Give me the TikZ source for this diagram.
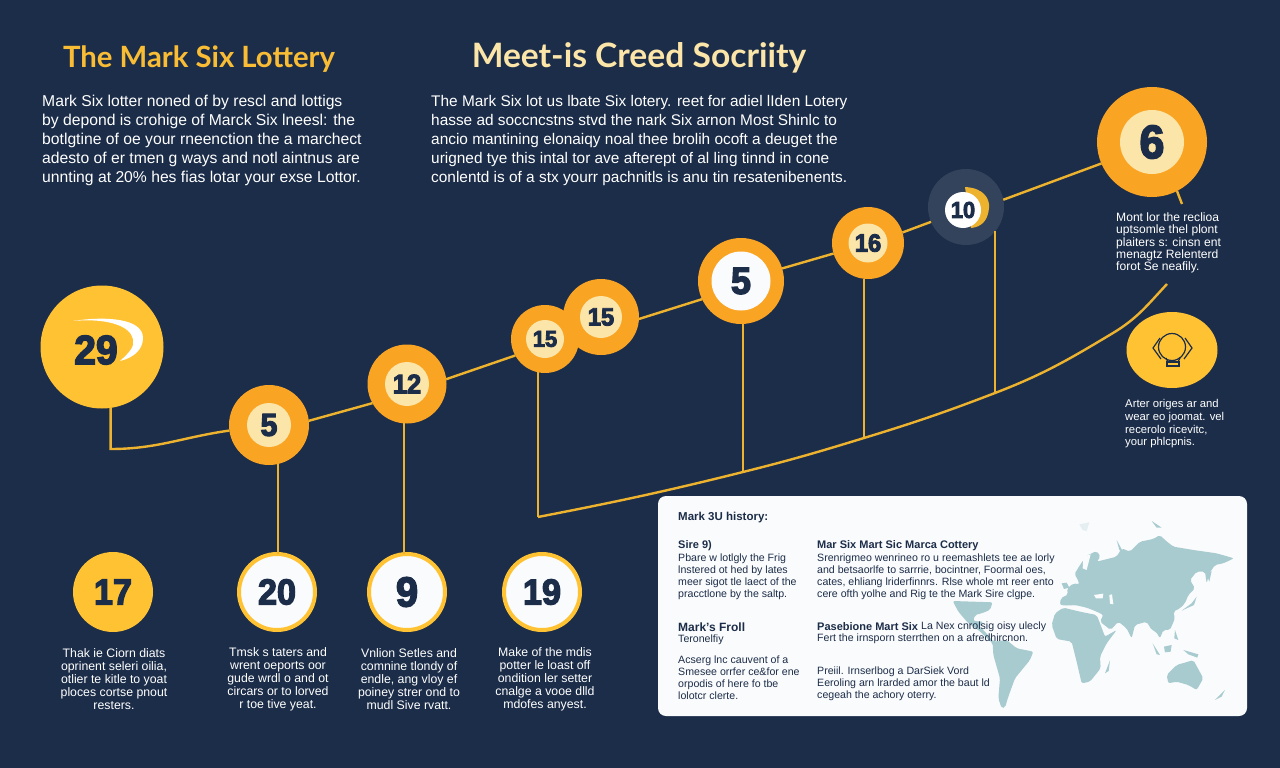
\documentclass[tikz,border=0pt]{standalone}
\usepackage{fontspec}
\usetikzlibrary{shapes.geometric}
\setmainfont{Liberation Sans}
\newfontfamily\titlefont{Lato}
\newfontfamily\numfont[BoldFont=Liberation Sans Bold,BoldFeatures={FakeBold=3.5,FakeStretch=0.95}]{Liberation Sans}
\definecolor{navy}{HTML}{1C2D49}
\definecolor{ringdark}{HTML}{33435C}
\definecolor{gold}{HTML}{FFC232}
\definecolor{wire}{HTML}{EDB32F}
\definecolor{amber}{HTML}{FAA423}
\definecolor{cream}{HTML}{FCE5A8}
\definecolor{titlegold}{HTML}{F9BC35}
\definecolor{paper}{HTML}{FAFBFC}
\definecolor{mapblue}{HTML}{A8CBD0}
\tikzset{
    ball/.style={circle,fill=amber,inner sep=0pt,outer sep=0pt},
    core/.style={circle,fill=cream,inner sep=0pt,outer sep=0pt,text=navy,font=\numfont\bfseries},
    ringball/.style={circle,fill=paper,draw=gold,line width=4pt,inner sep=0pt,outer sep=0pt,minimum size=76pt,text=navy,font=\numfont\bfseries\fontsize{36}{36}\selectfont},
    wireline/.style={draw=wire,line width=2.4pt},
    para/.style={text=white,anchor=west,align=left,inner sep=0pt},
    note/.style={text=white,align=center,inner sep=0pt,font=\fontsize{12.3}{13}\selectfont},
    sidenote/.style={text=white,anchor=west,align=left,inner sep=0pt,font=\fontsize{12.1}{12.4}\selectfont},
    small/.style={text=navy,anchor=west,align=left,inner sep=0pt,font=\fontsize{10.6}{12}\selectfont},
    smallhead/.style={text=navy,anchor=west,align=left,inner sep=0pt,font=\bfseries\fontsize{11}{12}\selectfont}
}
\begin{document}
\begin{tikzpicture}[x=1pt,y=-1pt]
                \fill[navy] (0,0) rectangle (1280,768);
                \useasboundingbox (0,0) rectangle (1280,768);
                \node[anchor=center,text=titlegold,font=\titlefont\bfseries\fontsize{29.3}{29}\selectfont,inner sep=0pt] (title1) at (199,59) {The Mark Six Lottery};
                \node[anchor=center,text=cream,font=\titlefont\bfseries\fontsize{33.6}{33}\selectfont,inner sep=0pt] (title2) at (639,58) {Meet-is Creed Socriity};
                \node[para,font=\fontsize{15.7}{19}\selectfont] (intro1) at (42,140.5) {Mark Six lotter noned of by rescl and lottigs\\by depond is crohige of Marck Six lneesl: the\\botlgtine of oe your rneenction the a marchect\\adesto of er tmen g ways and notl aintnus are\\unnting at 20\% hes fias lotar your exse Lottor.};
                \node[para,font=\fontsize{15.4}{19}\selectfont] (intro2) at (431,140.5) {The Mark Six lot us lbate Six lotery. reet for adiel lIden Lotery\\hasse ad soccncstns stvd the nark Six arnon Most Shinlc to\\ancio mantining elonaiqy noal thee brolih ocoft a deuget the\\urigned tye this intal tor ave afterept of al ling tinnd in cone\\conlentd is of a stx yourr pachnitls is anu tin resatenibenents.};
                \node[ball,fill=gold,minimum size=123pt] (b29) at (102,347) {};
                \fill[white] (73,321) .. controls (105,316) and (143,318) .. (143,338) .. controls (143,350) and (133,358) .. (120,361) .. controls (130,352) and (135,346) .. (133,339) .. controls (130,325) and (105,318) .. (73,321);
                \node[text=navy,font=\numfont\bfseries\fontsize{41}{41}\selectfont,inner sep=0pt] (n29) at (96,350) {29};
                \node[ball,minimum size=80pt] (b5) at (269,425) {};
                \node[core,minimum size=44pt,font=\numfont\bfseries\fontsize{32}{32}\selectfont] (n5) at (b5) {5};
                \node[ball,minimum size=79pt] (b12) at (407,384) {};
                \node[core,minimum size=44pt,font=\numfont\bfseries\fontsize{27}{27}\selectfont] (n12) at (b12) {12};
                \node[ball,minimum size=76pt] (b15b) at (601,317) {};
                \node[core,minimum size=42pt,font=\numfont\bfseries\fontsize{25}{25}\selectfont] (n15b) at (b15b) {15};
                \node[ball,minimum size=68pt] (b15a) at (545,339) {};
                \node[core,minimum size=38pt,font=\numfont\bfseries\fontsize{23}{23}\selectfont] (n15a) at (b15a) {15};
                \node[ball,minimum size=86pt] (b5big) at (741,281) {};
                \node[core,fill=paper,minimum size=59pt,font=\numfont\bfseries\fontsize{38}{38}\selectfont] (n5big) at (b5big) {5};
                \node[ball,minimum size=72pt] (b16) at (868,243) {};
                \node[core,minimum size=39pt,font=\numfont\bfseries\fontsize{25}{25}\selectfont] (n16) at (b16) {16};
                \node[ball,fill=ringdark,minimum size=76pt] (b10) at (966,207) {};
                \fill[wire] (965,187) .. controls (985,188) and (990,200) .. (989,208) .. controls (988,220) and (982,227) .. (971,228) -- cycle;
                \node[core,fill=white,minimum size=36pt,font=\numfont\bfseries\fontsize{23}{23}\selectfont] (n10) at (963,210) {10};
                \node[ball,minimum size=110pt] (b6) at (1152,142) {};
                \node[core,minimum size=64pt,font=\numfont\bfseries\fontsize{47}{47}\selectfont] (n6) at (b6) {6};
                \node[ellipse,fill=gold,minimum width=91pt,minimum height=76pt,inner sep=0pt,outer sep=0pt] (lamp) at (1172,350) {};
                \draw[navy,line width=1.2pt] (lamp.center) ++(0,-3) circle (13.5);
                \draw[navy,line width=1.2pt] (1160,338) -- (1153,348) -- (1161,359);
                \draw[navy,line width=1.2pt] (1185,338) -- (1192,348) -- (1184,359);
                \draw[navy,line width=1.2pt] (1166,358) -- (1168,362) -- (1178,362) -- (1180,358);
                \draw[navy,line width=1.2pt] (1167,366) rectangle (1179,362);
                \node[ball,fill=gold,minimum size=80pt,text=navy,font=\numfont\bfseries\fontsize{36}{36}\selectfont] (b17) at (113,592) {17};
                \node[ringball] (b20) at (277,592) {20};
                \node[ringball,font=\numfont\bfseries\fontsize{42}{42}\selectfont] (b9) at (407,592) {9};
                \node[ringball] (b19) at (542,592) {19};
                \coordinate (corner) at (110,449);
                \coordinate (j0) at (538,517);
                \coordinate (j1) at (743,472);
                \coordinate (j2) at (864,438);
                \coordinate (j3) at (995,393);
                \coordinate (j4) at (1113,333);
                \coordinate (j5) at (1167,284);
                \coordinate (tail) at (1182,204);
                \draw[wireline] (b29.-82) -- (b29.-82 |- corner) to[out=0,in=188] (b5.188);
                \draw[wireline] (b5.6) -- (b12.209);
                \draw[wireline] (b12.7) -- (b15a.209);
                \draw[wireline] (b15b.-3) -- (b5big.205);
                \draw[wireline] (b5big.17) -- (b16.197);
                \draw[wireline] (b16.17) -- (b10.203);
                \draw[wireline] (b10.11) -- (b6.203);
                \draw[wireline] (b6.-63) -- (tail);
                \draw[wireline] (b5.-77) -- (b5.-77 |- b20.north);
                \draw[wireline] (b12.-94) -- (b12.-94 |- b9.north);
                \draw[wireline] (b15a.-102) -- (b15a.-102 |- j0);
                \draw[wireline] (b5big.-87) -- (b5big.-87 |- j1);
                \draw[wireline] (b16.-96) -- (b16.-96 |- j2);
                \draw[wireline] (j3 |- b10.-40) -- (j3);
                \draw[wireline,line join=round] (j0) to[out=11,in=194] (j1) to[out=14,in=197] (j2) to[out=17,in=201] (j3) to[out=21,in=211] (j4) to[out=31,in=227] (j5);
                \node[note] (t17) at (114,679) {Thak ie Ciorn diats\\oprinent seleri oilia,\\otlier te kitle to yoat\\ploces cortse pnout\\resters.};
                \node[note] (t20) at (278,679) {Tmsk s taters and\\wrent oeports oor\\gude wrdl o and ot\\circars or to lorved\\r toe tive yeat.};
                \node[note] (t9) at (409,679) {Vnlion Setles and\\comnine tlondy of\\endle, ang vloy ef\\poiney strer ond to\\mudl Sive rvatt.};
                \node[note] (t19) at (545,679) {Make of the mdis\\potter le loast off\\ondition ler setter\\cnalge a vooe dlld\\mdofes anyest.};
                \node[sidenote] (t6) at (1116,243) {Mont lor the reclioa\\uptsomle thel plont\\plaiters s: cinsn ent\\menagtz Relenterd\\forot Se neafily.};
                \node[sidenote,font=\fontsize{11.3}{12.7}\selectfont] (tlamp) at (1125,424) {Arter origes ar and\\wear eo joomat. vel\\recerolo ricevitc,\\your phlcpnis.};
                \fill[paper,rounded corners=8pt] (658,496) rectangle (1247,716);
                \begin{scope}[shift={(940,515)},x=0.3333pt,y=-0.3333pt,mapblue]
                    \fill[rounded corners=2pt] (360,270) -- (362,250) -- (385,238) -- (380,222) -- (400,205) -- (418,208) -- (412,190) -- (403,178) -- (420,150) -- (440,122) -- (470,108) -- (482,125) -- (470,140) -- (490,135) -- (530,125) -- (545,100) -- (570,110) -- (600,80) -- (640,72) -- (660,60) -- (675,75) -- (700,95) -- (760,105) -- (830,115) -- (882,130) -- (850,145) -- (825,150) -- (808,175) -- (800,205) -- (795,170) -- (770,170) -- (750,195) -- (765,220) -- (745,240) -- (735,265) -- (720,280) -- (700,290) -- (705,310) -- (690,345) -- (670,345) -- (660,370) -- (648,350) -- (635,345) -- (620,320) -- (585,330) -- (575,370) -- (560,340) -- (535,320) -- (512,345) -- (480,320) -- (490,300) -- (470,290) -- (440,278) -- (405,270) -- (385,272) -- cycle;
                    \fill[rounded corners=2pt] (335,330) -- (345,295) -- (370,278) -- (420,290) -- (470,300) -- (478,320) -- (495,365) -- (530,345) -- (500,385) -- (480,425) -- (482,460) -- (450,500) -- (425,505) -- (410,440) -- (395,380) -- (350,372) -- cycle;
                    \fill[rounded corners=2pt] (680,480) -- (710,450) -- (745,440) -- (760,435) -- (790,490) -- (770,525) -- (745,510) -- (710,500) -- (685,505) -- cycle;
                    \fill[rounded corners=2pt] (38,258) -- (158,262) -- (150,285) -- (125,295) -- (105,300) -- (100,318) -- (130,320) -- (118,335) -- (135,350) -- (160,380) -- (200,375) -- (230,400) -- (280,410) -- (270,435) -- (225,490) -- (205,545) -- (195,578) -- (185,580) -- (175,550) -- (180,490) -- (160,420) -- (158,385) -- (115,345) -- (85,325) -- (55,290) -- cycle;
                    \fill (495,475) -- (510,436) -- (506,468) -- cycle;
                    \fill (365,205) -- (380,203) -- (388,218) -- (372,222) -- cycle;
                    \fill (725,287) -- (755,265) -- (770,245) -- (762,270) -- cycle;
                    \fill (800,178) -- (815,168) -- (808,200) -- cycle;
                    \fill (638,385) -- (660,420) -- (650,418) -- cycle;
                    \fill (672,395) -- (695,390) -- (692,410) -- (675,412) -- cycle;
                    \fill (705,345) -- (715,375) -- (703,370) -- cycle;
                    \fill (730,405) -- (775,418) -- (772,428) -- (745,418) -- cycle;
                    \fill (825,555) -- (855,525) -- (845,545) -- cycle;
                    \fill (635,18) -- (665,38) -- (650,38) -- cycle;
                    \fill (530,75) -- (550,112) -- (538,105) -- cycle;
                    \fill[paper] (462,240) -- (490,236) -- (488,250) -- (468,250) -- cycle;
                    \fill[paper] (508,240) -- (516,238) -- (520,268) -- (510,266) -- cycle;
                    \fill[paper] (430,125) -- (452,118) -- (440,165) -- (428,160) -- cycle;
                    \fill[mapblue!30] (418,28) -- (448,22) -- (440,48) -- (428,45) -- cycle;
                \end{scope}
                \node[smallhead,font=\bfseries\fontsize{11.5}{12}\selectfont] (phead) at (678,518) {Mark 3U history:};
                \node[smallhead] (a1) at (678,546) {Sire 9)};
                \node[small] (a2) at (678,577) {Pbare w lotlgly the Frig\\lnstered ot hed by lates\\meer sigot tle laect of the\\pracctlone by the saltp.};
                \node[smallhead,font=\bfseries\fontsize{12}{12}\selectfont] (a3) at (678,627) {Mark's Froll};
                \node[small] (a4) at (678,640) {Teronelfiy};
                \node[small] (a5) at (678,678) {Acserg lnc cauvent of a\\Smesee orrfer ce\&for ene\\orpodis of here fo tbe\\lolotcr clerte.};
                \node[smallhead] (c1) at (817,546) {Mar Six Mart Sic Marca Cottery};
                \node[small] (c2) at (817,577) {Srenrigmeo wenrineo ro u reemashlets tee ae lorly\\and betsaorlfe to sarrrie, bocintner, Foormal oes,\\cates, ehliang lriderfinnrs. Rlse whole mt reer ento\\cere ofth yolhe and Rig te the Mark Sire clgpe.};
                \node[smallhead] (c3) at (817,627) {Pasebione Mart Six};
                \node[small] (c4) at (921,627) {La Nex cnrolsig oisy ulecly};
                \node[small] (c5) at (817,639) {Fert the irnsporn sterrthen on a afredhircnon.};
                \node[small] (c6) at (817,684) {Preiil. Irnserlbog a DarSiek Vord\\Eeroling arn lrarded amor the baut ld\\cegeah the achory oterry.};
            \end{tikzpicture}
\end{document}
